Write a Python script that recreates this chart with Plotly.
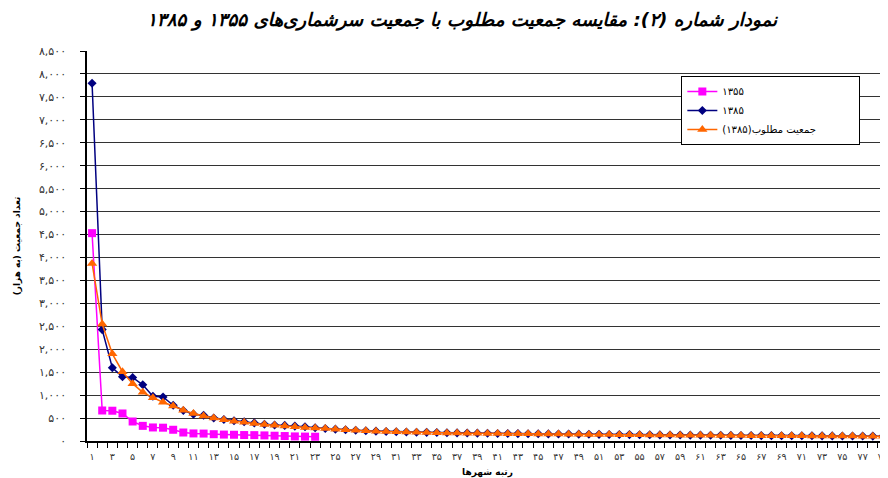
import plotly.graph_objects as go

FA = str.maketrans("0123456789", "۰۱۲۳۴۵۶۷۸۹")

def fa(s):
    return str(s).translate(FA)

ranks = list(range(1, 80))

pop_1355 = [4530, 665, 660, 600, 425, 330, 295, 290, 245, 185, 165, 162, 148, 140,
            136, 130, 128, 122, 115, 108, 100, 96, 93]

pop_1385 = [7798, 2428, 1595, 1400, 1385, 1225, 975, 958, 780, 665, 585, 560, 500, 470,
            440, 420, 395, 365, 350, 340, 325, 310, 290, 272, 258, 245, 233, 223, 215,
            208, 202, 197, 192, 188, 184, 180, 177, 174, 171, 168, 165, 163, 161, 159,
            157, 155, 153, 151, 149, 147, 145, 143, 141, 139, 137, 135, 133, 131, 130,
            128, 127, 125, 124, 122, 121, 120, 118, 117, 116, 115, 114, 113, 112, 111,
            110, 109, 108, 107, 105]

pop_required = [3870, 2550, 1900, 1510, 1250, 1060, 945, 845, 765, 670, 600, 545, 500,
                462, 432, 406, 383, 360, 342, 325, 310, 295, 282, 270, 256, 244, 232,
                222, 213, 205, 199, 194, 189, 185, 181, 177, 174, 171, 168, 165, 162,
                160, 158, 156, 154, 152, 150, 148, 146, 144, 142, 140, 138, 136, 134,
                132, 130, 129, 127, 126, 124, 123, 121, 120, 119, 117, 116, 115, 114,
                113, 112, 111, 110, 109, 108, 107, 106, 105, 103]

names = ["۱۳۵۵", "۱۳۸۵", "جمعیت مطلوب(۱۳۸۵)"]

y_ticks = list(range(0, 8501, 500))
y_text = [fa(f"{v:,}") for v in y_ticks]
x_ticks = list(range(1, 80, 2))
x_text = [fa(v) for v in x_ticks]

title = "نمودار شماره (۲): مقایسه جمعیت مطلوب با جمعیت سرشماری‌های ۱۳۵۵ و ۱۳۸۵"
x_title = "رتبه شهرها"
y_title = "تعداد جمعیت (به هزار)"

FONT = "DejaVu Sans"
PAD = "\u00a0" * 12  # widens the legend box like the reference

fig = go.Figure()
fig.add_trace(go.Scatter(x=ranks[:len(pop_1355)], y=pop_1355, name=names[0], mode="lines+markers",
                         line=dict(color="#FF00FF", width=1.5),
                         marker=dict(symbol="square", size=8, color="#FF00FF")))
fig.add_trace(go.Scatter(x=ranks, y=pop_1385, name=names[1], mode="lines+markers",
                         line=dict(color="#000080", width=1.5),
                         marker=dict(symbol="diamond", size=7, color="#000080")))
fig.add_trace(go.Scatter(x=ranks, y=pop_required, name=names[2] + PAD, mode="lines+markers",
                         line=dict(color="#FF6600", width=1.5),
                         marker=dict(symbol="triangle-up", size=9, color="#FF6600")))

# page body has an 8px margin; figure sized/offset to compensate
fig.update_layout(
    width=880, height=470,
    margin=dict(l=79, r=0, t=43, b=37, autoexpand=False),
    paper_bgcolor="white", plot_bgcolor="white",
    font=dict(family=FONT, color="black"),
    title=dict(text="<b><i>" + title + "</i></b>", x=0.516, xref="container", xanchor="center",
               y=1 - 12 / 470, yref="container", yanchor="middle", automargin=False,
               font=dict(size=18.3, family=FONT, color="black")),
    legend=dict(x=0.742, y=0.936, xanchor="left", yanchor="top",
                bgcolor="white", bordercolor="black", borderwidth=1,
                font=dict(size=10, family=FONT, color="black"),
                tracegroupgap=0),
    showlegend=True,
)

fig.update_xaxes(
    range=[0.5, 79.5], tickmode="array", tickvals=x_ticks, ticktext=x_text,
    ticks="", showgrid=False, zeroline=False, automargin=False,
    showline=True, linecolor="black", linewidth=1.5,
    tickfont=dict(size=9.5, family=FONT, color="#333"),
    ticklabelstandoff=6, ticklabeloverflow="allow",
    minor=dict(tick0=0.5, dtick=1, ticks="outside", ticklen=5, tickcolor="black", showgrid=False),
    title=dict(text="<b>" + x_title + "</b>", font=dict(size=9, family=FONT), standoff=8),
)
fig.update_yaxes(
    range=[0, 8500], tickmode="array", tickvals=y_ticks, ticktext=y_text,
    ticks="outside", ticklen=5, tickcolor="black", automargin=False,
    showgrid=True, gridcolor="#333", gridwidth=1, zeroline=False,
    showline=True, linecolor="black", linewidth=1.5,
    tickfont=dict(size=11, family=FONT, color="#333"),
    ticklabelstandoff=12,
    title=dict(text="<b>" + y_title + "</b>", font=dict(size=9, family=FONT), standoff=17),
)

fig.write_html("out.html")
